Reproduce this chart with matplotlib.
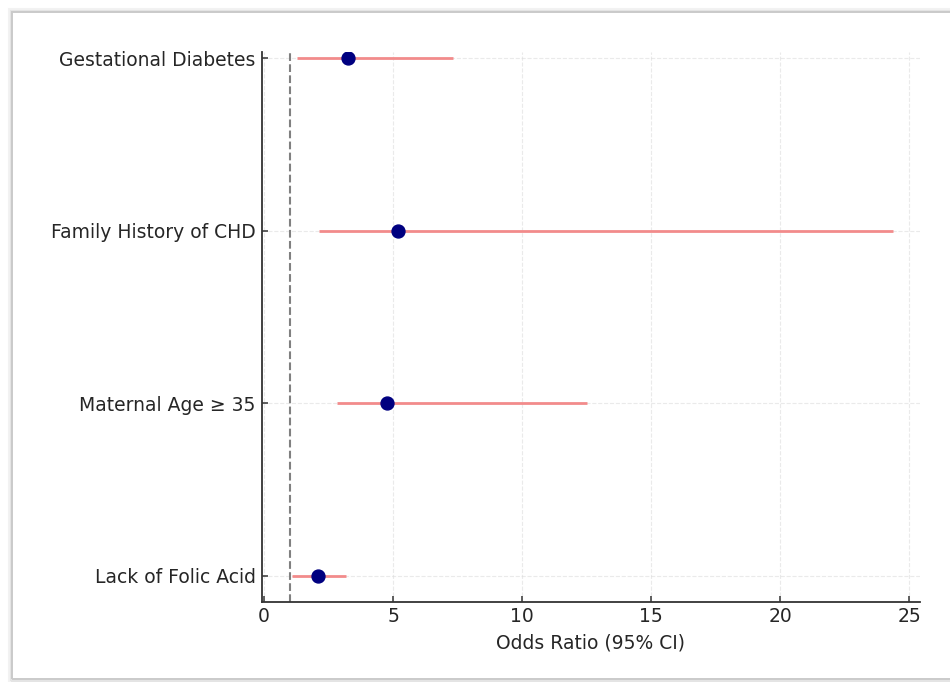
import matplotlib
matplotlib.use("Agg")
import matplotlib.pyplot as plt
from matplotlib.patches import Rectangle

categories = ["Lack of Folic Acid", "Maternal Age ≥ 35", "Family History of CHD", "Gestational Diabetes"]
odds_ratio = [2.1, 4.75, 5.2, 3.27]
ci_lower = [1.07, 2.82, 2.14, 1.27]
ci_upper = [3.18, 12.53, 24.37, 7.33]
x_ticks = [0, 5, 10, 15, 20, 25]

plt.rcParams['font.family'] = ['DejaVu Sans']

fig = plt.figure(figsize=(9.5, 6.82), dpi=100)
fig.patch.set_facecolor('white')

# screenshot-like frame with a soft shadow
for off, col, lw in [(0, '#cacaca', 1.4), (1.5, '#e4e4e4', 1.5), (3, '#f2f2f2', 1.5)]:
    fig.patches.append(Rectangle(((12 - off) / 950, (3 - off) / 682),
                                 1.2, (667 + 2 * off) / 682,
                                 transform=fig.transFigure, fill=False,
                                 edgecolor=col, linewidth=lw, zorder=-1 - off))

ax = fig.add_axes([262 / 950, 1 - 601.7 / 682, (920 - 262) / 950, (601.7 - 52) / 682])

ypos = list(range(len(categories)))
xerr = [[o - l for o, l in zip(odds_ratio, ci_lower)],
        [u - o for o, u in zip(odds_ratio, ci_upper)]]

ax.grid(True, linestyle='--', color='#dcdcdc', linewidth=0.8, alpha=0.6, zorder=0)
ax.axvline(1, color='#808080', linestyle='--', linewidth=1.5, zorder=2)
ax.errorbar(odds_ratio, ypos, xerr=xerr, fmt='o', color='#000080', markersize=9.3,
            ecolor='#f28b8b', elinewidth=2.0, capsize=0, zorder=3)

ax.set_yticks(ypos)
ax.set_yticklabels(categories)
ax.set_xticks(x_ticks)
ax.set_xlim(-0.08, 25.42)
ax.set_ylim(-0.149, 3.035)
ax.set_xlabel("Odds Ratio (95% CI)", fontsize=13.5, color='#262626', labelpad=5)

for s in ['top', 'right']:
    ax.spines[s].set_visible(False)
for s in ['left', 'bottom']:
    ax.spines[s].set_color('#333333')
    ax.spines[s].set_linewidth(1.3)

ax.tick_params(axis='both', direction='in', length=4.5, width=1.1, color='#333333',
               labelsize=13.5, labelcolor='#262626')
ax.tick_params(axis='y', pad=4.5)
ax.tick_params(axis='x', pad=4)

fig.savefig("out.png", dpi=100, facecolor='white')
